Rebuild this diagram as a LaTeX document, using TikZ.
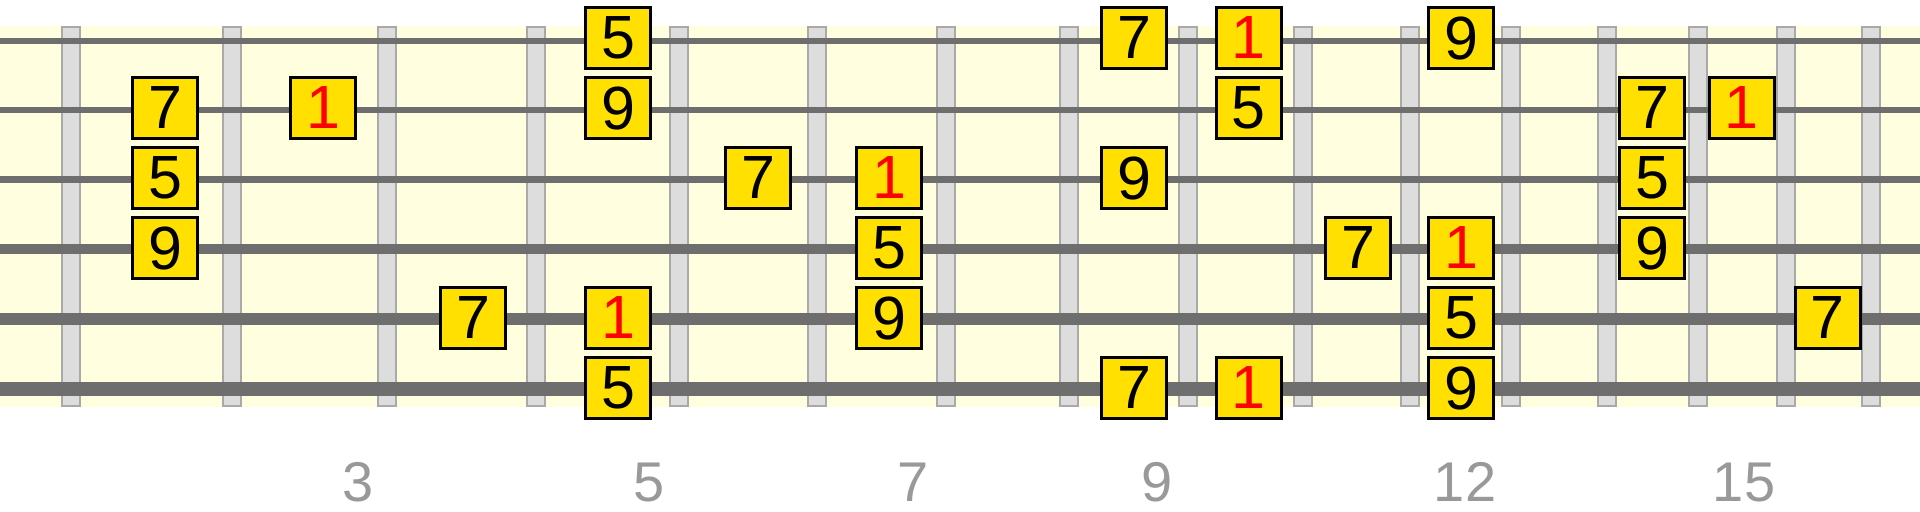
\documentclass[tikz,border=0pt]{standalone}
\usepackage{fontspec}
\setmainfont{Liberation Sans}
\definecolor{board}{HTML}{FFFFE0}
\definecolor{wirefill}{HTML}{DDDDDD}
\definecolor{wireedge}{HTML}{A9A9A9}
\definecolor{stringgray}{HTML}{6E6E6E}
\definecolor{notefill}{HTML}{FFE000}
\definecolor{markgray}{HTML}{999999}
\tikzset{
  note/.style={draw=black, line width=1.5pt, fill=notefill, minimum width=32.5pt, minimum height=30.15pt, inner sep=0pt, font=\fontsize{30.5}{30.5}\selectfont},
  root/.style={note, text=red},
  wire/.style={draw=wireedge, fill=wirefill, line width=1pt},
  marker/.style={anchor=base, text=markgray, font=\fontsize{28}{28}\selectfont},
}
\begin{document}
\begin{tikzpicture}[x=0.5pt,y=-0.5pt]
\useasboundingbox (0,0) rectangle (1920,511);

% board
\fill [board] (0,26) rectangle (1920,407);
% fret wires
\foreach \x in {71,232,387,536.3,679.3,817,945.8,1069,1187.5,1302.5,1409.5,1510.5,1606.7,1697.5,1785.8,1870.5}
  \draw [wire] (\x-9,27) rectangle (\x+9,406);
% strings, thin to thick
\foreach \y/\w in {40.7/3,110/3.35,179.3/3.65,248.7/5,319/6,389/6.65}
  \draw [stringgray, line width=\w pt] (0,\y) -- (1920,\y);

% notes: string/fret/degree/style
\foreach \s/\f/\n/\st in {1/5/5/note, 1/9/7/note, 1/10/1/root, 1/12/9/note,
    2/2/7/note, 2/3/1/root, 2/5/9/note, 2/10/5/note, 2/14/7/note, 2/15/1/root,
    3/2/5/note, 3/6/7/note, 3/7/1/root, 3/9/9/note, 3/14/5/note,
    4/2/9/note, 4/7/5/note, 4/11/7/note, 4/12/1/root, 4/14/9/note,
    5/4/7/note, 5/5/1/root, 5/7/9/note, 5/12/5/note, 5/16/7/note,
    6/5/5/note, 6/9/7/note, 6/10/1/root, 6/12/9/note} {
  \pgfmathsetmacro\xf{{0,0,165,323,473,618,758,889,0,1134,1248.8,1358,1461,0,1652,1741.8,1827.8}[\f]}
  \pgfmathsetmacro\ys{{0,38,108,178,248,318,388}[\s]}
  \node [\st] (s\s-f\f) at (\xf,\ys) {\n};
}

% fret markers
\foreach \x/\n in {357.6/3, 649/5, 913.5/7, 1157/9, 1465/12, 1744/15}
  \node [marker] (m\n) at (\x,501.7) {\n};

\end{tikzpicture}
\end{document}
